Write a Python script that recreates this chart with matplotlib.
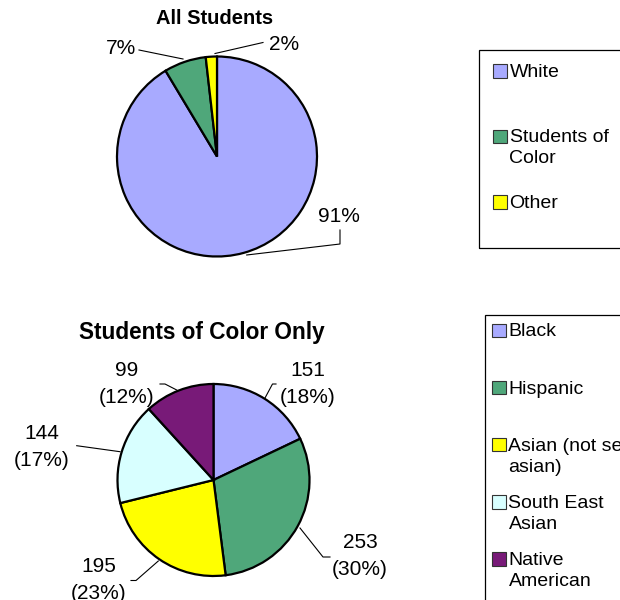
import matplotlib
matplotlib.use("Agg")
import matplotlib.pyplot as plt
from matplotlib.patches import Rectangle

plt.rcParams['font.family'] = ['Liberation Sans', 'DejaVu Sans']

# --- data ---
all_labels = ["White", "Students of\nColor", "Other"]
all_share = [91.4, 6.8, 1.8]          # percent of all students
all_colors = ["#A8AAFF", "#4FA77A", "#FFFF00"]

soc_labels = ["Black", "Hispanic", "Asian (not se\nasian)", "South East\nAsian", "Native\nAmerican"]
soc_counts = [151, 253, 195, 144, 99]
soc_colors = ["#A8AAFF", "#4FA77A", "#FFFF00", "#D8FFFF", "#781A78"]

W, H = 620, 600
fig = plt.figure(figsize=(W / 100, H / 100), dpi=100)
ax = fig.add_axes([0, 0, 1, 1])


def P(x, y):
    # pixel position (top-left origin) -> data coords
    return (x, H - y)


wp = dict(edgecolor="black", linewidth=1.6)
ax.pie(all_share, colors=all_colors, startangle=90, counterclock=False,
       center=P(217, 156.5), radius=100, wedgeprops=wp, frame=True)
ax.pie(soc_counts, colors=soc_colors, startangle=90, counterclock=False,
       center=P(213.5, 480), radius=96, wedgeprops=wp, frame=True)
ax.set_xlim(0, W)
ax.set_ylim(0, H)
ax.set_aspect("equal")
ax.axis("off")

lab_fs = 15
lead = dict(color="black", lw=0.8)

# top pie labels
top_pos = [(339, 217), (121, 48), (284, 44)]
top_leads = [[(246.7, 255), (340, 244), (340, 230)],
             [(183, 59), (139, 50)],
             [(215, 53.5), (263, 42.5)]]
for v, (x, y), ln in zip(all_share, top_pos, top_leads):
    ax.text(*P(x, y), f"{round(v)}%", fontsize=lab_fs, ha="center", va="center")
    xs, ys = zip(*[P(a, b) for a, b in ln])
    ax.plot(xs, ys, **lead)

ax.text(*P(215, 19), "All Students", fontsize=14.5, fontweight="bold", ha="center", va="center")

# bottom pie labels
total = sum(soc_counts)
bot_pos = [(308, 384), (360, 556), (99, 580), (41.7, 447), (126.7, 384)]
bot_leads = [[(265, 398), (272.5, 384), (276, 384)],
             [(300, 528), (323, 557), (330, 557)],
             [(158.3, 561), (136, 580.5), (131, 580.5)],
             [(120, 451.7), (76.7, 445.7)],
             [(176.7, 390), (165, 384), (160, 384)]]
for c, (x, y), ln in zip(soc_counts, bot_pos, bot_leads):
    ax.text(*P(x, y), f"{c}\n({round(100 * c / total)}%)", fontsize=lab_fs,
            ha="center", va="center", linespacing=1.5)
    xs, ys = zip(*[P(a, b) for a, b in ln])
    ax.plot(xs, ys, **lead)

ax.text(*P(202, 333), "Students of Color Only", fontsize=16.3, fontweight="bold",
        ha="center", va="center")


# legends (drawn by hand, Excel-style spacing)
def legend_box(left, top, bottom, labels, colors, y0, step, mk_x):
    ax.add_patch(Rectangle(P(left, bottom), 700 - left, bottom - top, fill=False,
                           edgecolor="black", lw=0.9, clip_on=False))
    for i, (lab, col) in enumerate(zip(labels, colors)):
        yc = y0 + i * step
        ax.add_patch(Rectangle(P(mk_x, yc + 7), 13.5, 13.5, facecolor=col,
                               edgecolor="#333333", lw=0.8))
        ax.text(*P(mk_x + 16.5, yc - 6.5), lab, fontsize=14, ha="left", va="top",
                linespacing=1.28)


legend_box(478.5, 50, 248, all_labels, all_colors, 70.5, 65.5, 493)
legend_box(484.5, 315, 640, soc_labels, soc_colors, 330, 57.2, 492)

fig.savefig("out.png", dpi=100)
